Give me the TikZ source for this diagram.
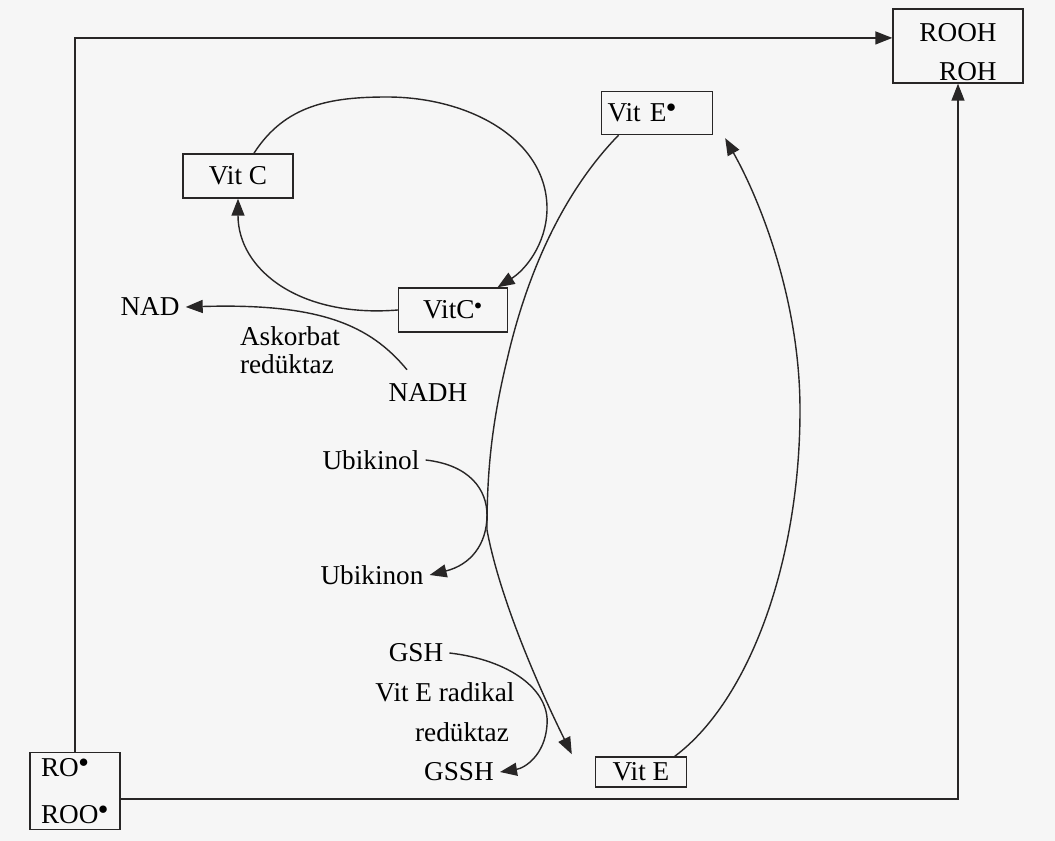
\documentclass[tikz,border=0pt]{standalone}
\usepackage{fontspec}
\setmainfont{Liberation Serif}
\usetikzlibrary{arrows.meta,calc}
\definecolor{paper}{RGB}{246,246,246}
\definecolor{ink}{RGB}{40,38,38}
\begin{document}
\begin{tikzpicture}[x=0.02cm,y=-0.02cm,
    font=\fontsize{15.5}{18}\selectfont,
    box/.style={draw=ink, line width=0.8pt},
    link/.style={draw=ink, line width=0.8pt},
    arr/.style={link, -{Triangle[length=3.4mm,width=2.6mm]}}]
    \fill[paper] (0,0) rectangle (1055,841);
    % boxes
    \node[box, minimum width=1.8cm, minimum height=1.48cm, align=left,
          font=\fontsize{15.5}{26.7}\selectfont] (ro) at (75,791) {RO$^\bullet$\\ROO$^\bullet$};
    \node[box, minimum width=2.6cm, minimum height=1.48cm, inner ysep=0pt, align=right,
          font=\fontsize{15.5}{22}\selectfont] (rooh) at (958,46) {\rule{0pt}{17pt}ROOH\\ROH};
    \node[box, minimum width=2.2cm, minimum height=0.88cm] (vitc) at (238,176) {Vit C};
    \node[box, minimum width=2.18cm, minimum height=0.88cm] (vitcr) at (453,310) {VitC$^{\scriptscriptstyle\bullet}$};
    \node[box, text width=1.98cm, inner xsep=0.12cm, minimum height=0.86cm,
          align=left] (viter) at (657,113) {Vit E$^\bullet$};
    \node[box, minimum width=1.82cm, minimum height=0.6cm] (vite) at (641,772) {Vit E};
    % labels
    \node (nad) at (150,307) {NAD};
    \node[align=left, font=\fontsize{15.5}{16}\selectfont] (askorbat) at (290,350) {Askorbat\\redüktaz};
    \node (nadh) at (428,393) {NADH};
    \node (ubikinol) at (371,460) {Ubikinol};
    \node (ubikinon) at (372,575) {Ubikinon};
    \node (gsh) at (416,653) {GSH};
    \node (radikal) at (445,692) {Vit E radikal};
    \node (reduktaz) at (462,732) {redüktaz};
    \node (gssh) at (459,772) {GSSH};
    % frame
    \draw[arr] (ro.north) |- (rooh.173);
    \draw[arr] (ro.-10) -| (rooh.south);
    % vitamin C cycle
    \draw[arr] (vitc.55) .. controls (285,105) and (330,97) .. (387,97)
        .. controls (470,97) and (548,140) .. (547,210)
        .. controls (546,245) and (525,270) .. (vitcr.27);
    \draw[arr] (vitcr.west) .. controls (300,318) and (238,270) .. (vitc.south);
    \draw[arr] ($(nadh.north)+(-21,-8)$) .. controls (370,325) and (320,303) .. (nad.east);
    % vitamin E cycle
    \draw[arr] (viter.210) .. controls (570,185) and (530,260) .. (507,360)
        .. controls (490,430) and (487,480) .. (487,530)
        .. controls (500,600) and (540,690) .. ($(vite.north west)+(-23,-2)$);
    \draw[arr] (vite.25) .. controls (750,700) and (800,560) .. (800,410)
        .. controls (800,300) and (760,200) .. ($(viter.south east)+(12,3)$);
    \draw[arr] (ubikinol.east) .. controls (470,465) and (487,490) .. (487,515)
        .. controls (487,545) and (470,565) .. (ubikinon.east);
    \draw[arr] (gsh.east) .. controls (510,660) and (550,690) .. (547,725)
        .. controls (545,755) and (525,768) .. (gssh.east);
\end{tikzpicture}
\end{document}
